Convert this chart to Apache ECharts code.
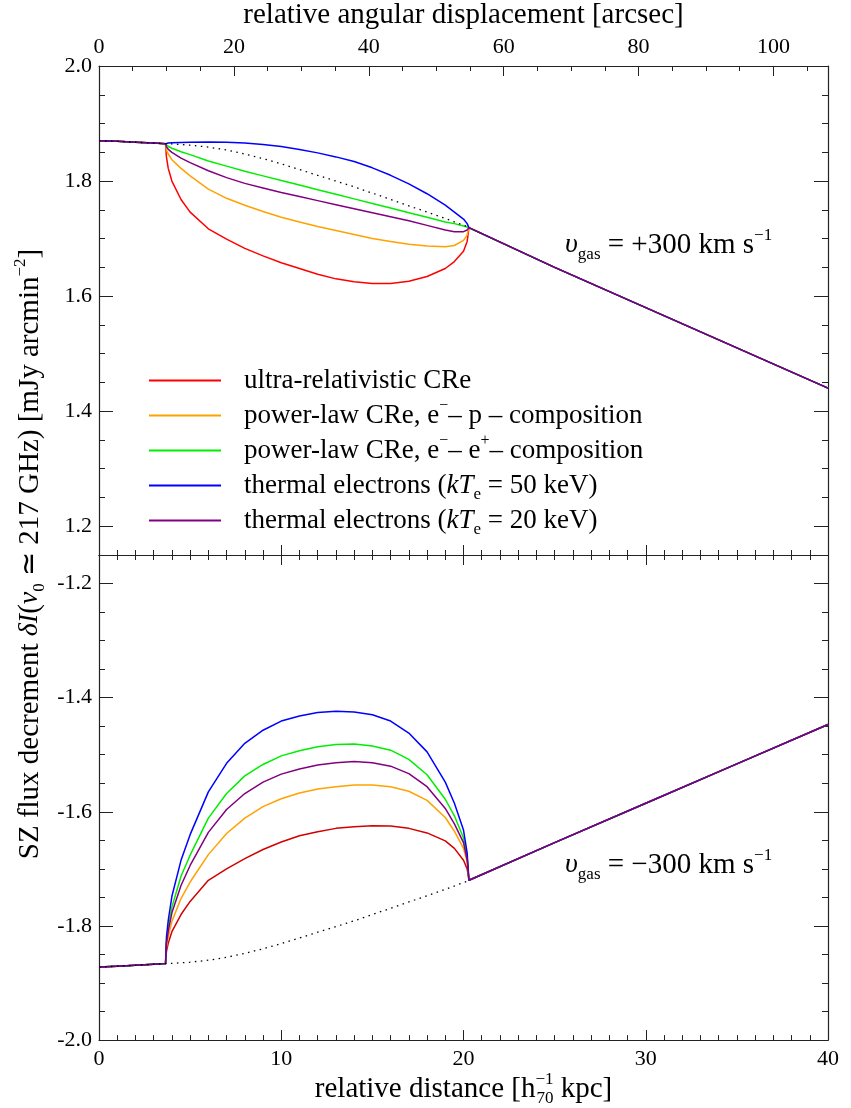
<!DOCTYPE html>
<html><head><meta charset="utf-8">
<script src="https://cdn.jsdelivr.net/npm/echarts@6/dist/echarts.min.js"></script>
<style>html,body{margin:0;padding:0;background:#fff}#c{width:851px;height:1108px}</style>
</head><body><div id="c"></div>
<script>
// ---- data (x in h70^-1 kpc) ----
const xLeft  = [0, 1, 2, 3];
const xInner = [3.65, 3.7, 3.8, 4.0, 4.5, 5, 6, 7, 8, 9, 10, 11, 12, 13, 14, 15, 16, 17, 18, 19, 19.5, 20, 20.2, 20.3];
const xRight = [25, 30, 35, 40];

const topLeft  = [1.870, 1.869, 1.8675, 1.866];
const topRight = [1.650, 1.580, 1.510, 1.440];
const topRed    = [1.865, 1.842, 1.822, 1.800, 1.768, 1.746, 1.717, 1.699, 1.683, 1.670, 1.658, 1.648, 1.638, 1.630, 1.625, 1.622, 1.622, 1.626, 1.634, 1.648, 1.660, 1.678, 1.695, 1.719];
const topOrange = [1.865, 1.854, 1.847, 1.837, 1.822, 1.809, 1.786, 1.770, 1.758, 1.747, 1.737, 1.729, 1.721, 1.714, 1.707, 1.700, 1.695, 1.690, 1.687, 1.686, 1.688, 1.697, 1.706, 1.719];
const topGreen  = [1.865, 1.863, 1.860, 1.857, 1.851, 1.846, 1.835, 1.826, 1.817, 1.809, 1.801, 1.793, 1.785, 1.777, 1.769, 1.761, 1.753, 1.745, 1.737, 1.729, 1.726, 1.722, 1.720, 1.719];
const topBlue   = [1.865, 1.8655, 1.866, 1.8665, 1.867, 1.8675, 1.868, 1.8675, 1.866, 1.8635, 1.860, 1.855, 1.849, 1.842, 1.834, 1.823, 1.810, 1.795, 1.778, 1.758, 1.746, 1.734, 1.726, 1.719];
const topPurple = [1.865, 1.860, 1.855, 1.850, 1.840, 1.832, 1.818, 1.806, 1.796, 1.788, 1.780, 1.773, 1.766, 1.759, 1.752, 1.745, 1.738, 1.731, 1.723, 1.715, 1.712, 1.712, 1.715, 1.719];
const topThermal= [1.865, 1.865, 1.8648, 1.8645, 1.8635, 1.8625, 1.859, 1.854, 1.847, 1.839, 1.830, 1.820, 1.810, 1.800, 1.790, 1.779, 1.768, 1.757, 1.746, 1.735, 1.729, 1.723, 1.721, 1.719];

const botLeft  = [-1.872, -1.8705, -1.869, -1.867];
const botRight = [-1.654, -1.585, -1.516, -1.447];
const botRed    = [-1.866, -1.845, -1.830, -1.810, -1.780, -1.757, -1.720, -1.700, -1.682, -1.666, -1.653, -1.642, -1.635, -1.629, -1.626, -1.6245, -1.625, -1.629, -1.637, -1.651, -1.664, -1.685, -1.700, -1.720];
const botOrange = [-1.866, -1.837, -1.819, -1.792, -1.752, -1.723, -1.675, -1.638, -1.611, -1.591, -1.577, -1.567, -1.560, -1.556, -1.553, -1.553, -1.556, -1.564, -1.580, -1.610, -1.634, -1.664, -1.688, -1.720];
const botGreen  = [-1.866, -1.828, -1.802, -1.767, -1.713, -1.676, -1.611, -1.568, -1.537, -1.517, -1.502, -1.493, -1.486, -1.482, -1.481, -1.4845, -1.492, -1.508, -1.535, -1.578, -1.607, -1.646, -1.679, -1.720];
const botBlue   = [-1.866, -1.820, -1.790, -1.748, -1.685, -1.640, -1.565, -1.515, -1.480, -1.457, -1.441, -1.432, -1.426, -1.424, -1.425, -1.430, -1.441, -1.462, -1.495, -1.548, -1.585, -1.632, -1.672, -1.720];
const botPurple = [-1.866, -1.831, -1.809, -1.777, -1.729, -1.694, -1.636, -1.596, -1.568, -1.548, -1.534, -1.525, -1.518, -1.514, -1.512, -1.514, -1.520, -1.533, -1.556, -1.594, -1.621, -1.654, -1.684, -1.720];
const botThermal= [-1.866, -1.866, -1.8658, -1.8655, -1.8645, -1.8635, -1.860, -1.855, -1.848, -1.840, -1.831, -1.821, -1.811, -1.801, -1.791, -1.780, -1.769, -1.758, -1.747, -1.736, -1.730, -1.724, -1.722, -1.720];

const seriesNames = [
  'ultra-relativistic CRe',
  'power-law CRe, e−– p – composition',
  'power-law CRe, e−– e+– composition',
  'thermal electrons (kTe = 50 keV)',
  'thermal electrons (kTe = 20 keV)'
];
const legendRich = [
  'ultra-relativistic CRe',
  'power-law CRe, e{sup|−}– p – composition',
  'power-law CRe, e{sup|−}– e{sup|+}– composition',
  'thermal electrons ({it|kT}{sub|e} = 50 keV)',
  'thermal electrons ({it|kT}{sub|e} = 20 keV)'
];
const topTicks = [0, 20, 40, 60, 80, 100];

// ---- build ----
const FF = '"Liberation Serif", "Times New Roman", serif';
const AX = '#222';
function pairs(xs, ys) { return xs.map((x, i) => [x, ys[i]]); }
function full(left, inner, right) {
  return pairs(xLeft, left).concat(pairs(xInner, inner)).concat(right ? pairs(xRight, right) : []);
}
const richStyles = {
  sup: {fontSize: 17, fontFamily: FF, verticalAlign: 'top', color: '#000'},
  sub: {fontSize: 17, fontFamily: FF, verticalAlign: 'bottom', color: '#000'},
  it:  {fontSize: 28, fontFamily: FF, fontStyle: 'italic', color: '#000'},
  n:   {fontSize: 29, fontFamily: FF, color: '#000', lineHeight: 36}
};

function axisBase(len, lineShow) {
  return {
    axisLine: {show: lineShow, onZero: false, lineStyle: {color: AX, width: 1.2}},
    axisTick: {show: true, inside: true, length: len, lineStyle: {color: AX, width: 1}},
    splitLine: {show: false},
    axisLabel: {show: false}
  };
}
function xAx(grid, pos, min, max, interval, len, lineShow, extra) {
  return Object.assign({type: 'value', gridIndex: grid, position: pos, min, max, interval}, axisBase(len, lineShow), extra || {});
}
function yAx(grid, pos, min, max, interval, len, lineShow, extra) {
  return Object.assign({type: 'value', gridIndex: grid, position: pos, min, max, interval}, axisBase(len, lineShow), extra || {});
}
const yFmt = v => { const k = Math.round(v * 5); return Math.abs(v * 5 - k) < 1e-6 ? (k / 5).toFixed(1) : ''; };
const yLab = {show: true, margin: 7, fontFamily: FF, fontSize: 22, color: '#000', formatter: yFmt};

const xAxes = [
  xAx(0, 'bottom', 0, 40, 1, 5, true),
  xAx(0, 'bottom', 0, 40, 10, 10, false),
  xAx(0, 'top', 0, 108.1, 5, 5, true),
  xAx(0, 'top', 0, 108.1, 20, 10, false, {
    axisLabel: {show: true, margin: 8, fontFamily: FF, fontSize: 22, color: '#000',
      formatter: v => (topTicks.indexOf(Math.round(v)) >= 0 && Math.abs(v - Math.round(v)) < 1e-6) ? String(Math.round(v)) : ''},
    name: 'relative angular displacement [arcsec]', nameLocation: 'middle', nameGap: 36,
    nameTextStyle: {fontFamily: FF, fontSize: 29, color: '#000'}
  }),
  xAx(1, 'bottom', 0, 40, 1, 5, true),
  xAx(1, 'bottom', 0, 40, 10, 10, false, {
    axisLabel: {show: true, margin: 8, fontFamily: FF, fontSize: 22, color: '#000'},
    name: '{n|relative distance [h}{sup|−1}{sub|70}{n| kpc]}', nameLocation: 'middle', nameGap: 26,
    nameTextStyle: {fontFamily: FF, fontSize: 29, color: '#000',
      rich: {
        n:   {fontSize: 29, fontFamily: FF, color: '#000', lineHeight: 36, align: 'left'},
        sup: {fontSize: 17, fontFamily: FF, verticalAlign: 'top', align: 'left', color: '#000', width: 1},
        sub: {fontSize: 17, fontFamily: FF, verticalAlign: 'bottom', align: 'left', color: '#000'}
      }}
  }),
  xAx(1, 'top', 0, 40, 1, 5, true),
  xAx(1, 'top', 0, 40, 10, 10, false)
];
const yAxes = [
  yAx(0, 'left', 1.15, 2.0, 0.05, 6, true, {axisLabel: yLab}),
  yAx(0, 'left', 0, 0.85, 0.2, 14, false, {inverse: true}),
  yAx(0, 'right', 1.15, 2.0, 0.05, 6, true),
  yAx(0, 'right', 0, 0.85, 0.2, 14, false, {inverse: true}),
  yAx(1, 'left', -2.0, -1.15, 0.05, 6, true, {axisLabel: yLab}),
  yAx(1, 'left', 0, 0.85, 0.2, 14, false),
  yAx(1, 'right', -2.0, -1.15, 0.05, 6, true),
  yAx(1, 'right', 0, 0.85, 0.2, 14, false)
];

function line(name, color, data, xi, yi, z) {
  return {type: 'line', name, data, xAxisIndex: xi, yAxisIndex: yi, symbol: 'none',
    smooth: false, lineStyle: {color, width: 1.5, join: 'round'}, itemStyle: {color},
    z, silent: true, animation: false};
}
function dotted(data, xi, yi) {
  return {type: 'line', data, xAxisIndex: xi, yAxisIndex: yi, symbol: 'none', smooth: false,
    lineStyle: {color: '#000', width: 1.3, type: [1.5, 4.5]}, z: 20, silent: true, animation: false};
}
const C = ['#ff0000', '#ffa200', '#00ee00', '#0000ff', '#82007f'];
const series = [
  line(seriesNames[0], C[0], full(topLeft, topRed, topRight), 0, 0, 10),
  line(seriesNames[1], C[1], full(topLeft, topOrange, topRight), 0, 0, 11),
  line(seriesNames[2], C[2], full(topLeft, topGreen, topRight), 0, 0, 12),
  line(seriesNames[3], C[3], full(topLeft, topBlue, topRight), 0, 0, 13),
  line(seriesNames[4], C[4], full(topLeft, topPurple, topRight), 0, 0, 14),
  dotted(full(topLeft, topThermal, null), 0, 0),
  line(seriesNames[0], '#d40000', full(botLeft, botRed, botRight), 4, 4, 10),
  line(seriesNames[1], C[1], full(botLeft, botOrange, botRight), 4, 4, 11),
  line(seriesNames[2], C[2], full(botLeft, botGreen, botRight), 4, 4, 12),
  line(seriesNames[3], C[3], full(botLeft, botBlue, botRight), 4, 4, 13),
  line(seriesNames[4], C[4], full(botLeft, botPurple, botRight), 4, 4, 14),
  dotted(full(botLeft, botThermal, null), 4, 4)
];

const chart = echarts.init(document.getElementById('c'), null, {renderer: 'canvas'});
chart.setOption({
  animation: false,
  backgroundColor: '#fff',
  grid: [
    {left: 99, top: 65, width: 729, height: 490},
    {left: 99, top: 555, width: 729, height: 489}
  ],
  xAxis: xAxes,
  yAxis: yAxes,
  legend: {
    show: true, orient: 'vertical', left: 144, top: 358, itemWidth: 72, itemHeight: 2, itemGap: 0,
    icon: 'rect', selectedMode: false, data: seriesNames,
    formatter: n => legendRich[seriesNames.indexOf(n)],
    textStyle: {fontFamily: FF, fontSize: 27, color: '#000', lineHeight: 35, padding: [0, 0, 0, 18],
      rich: {
        sup: {fontSize: 16, fontFamily: FF, verticalAlign: 'top', color: '#000'},
        sub: {fontSize: 17, fontFamily: FF, verticalAlign: 'bottom', color: '#000'},
        it: {fontSize: 27, fontFamily: FF, fontStyle: 'italic', color: '#000'}
      }}
  },
  graphic: [
    {type: 'text', x: 565, y: 245, silent: true,
      style: {text: '{it|υ}{sub|gas} = +300 km s{sup|−1}', fontFamily: FF, fontSize: 29, fill: '#000',
        verticalAlign: 'middle', textVerticalAlign: 'middle', lineHeight: 36, rich: richStyles}},
    {type: 'text', x: 565, y: 865, silent: true,
      style: {text: '{it|υ}{sub|gas} = −300 km s{sup|−1}', fontFamily: FF, fontSize: 29, fill: '#000',
        verticalAlign: 'middle', textVerticalAlign: 'middle', lineHeight: 36, rich: richStyles}},
    {type: 'text', x: 30, y: 554, rotation: Math.PI / 2, silent: true,
      style: {text: 'SZ flux decrement {it|δI}({it|ν}{sub|0} ≃ 217 GHz) [mJy arcmin{sup|−2}]', fontFamily: FF, fontSize: 29, fill: '#000',
        align: 'center', textAlign: 'center', verticalAlign: 'middle', textVerticalAlign: 'middle', lineHeight: 36, rich: richStyles}}
  ],
  series
});
</script></body></html>
